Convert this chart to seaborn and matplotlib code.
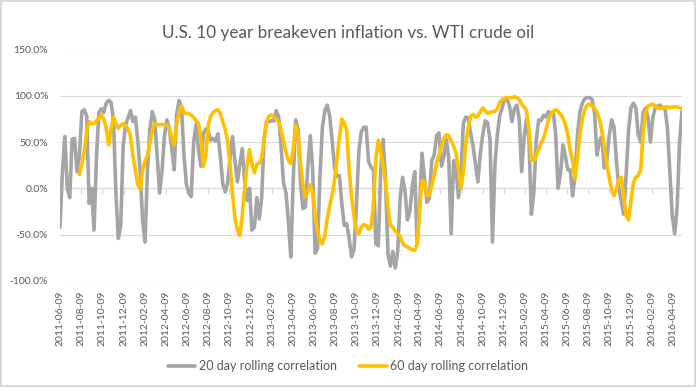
import pandas as pd
import numpy as np
import seaborn as sns
import matplotlib.pyplot as plt
import matplotlib.dates as mdates
import matplotlib.ticker as mtick

# weekly samples (percent)
dates = pd.date_range('2011-06-09', periods=257, freq='7D')

corr_20d = [
    -42, 18, 56, 0, -10, 53, 54, 18, 36, 83,
    85, 78, -16, 0, -45, 33, 82, 86, 82, 92,
    95, 93, 74, -5, -54, -40, 46, 69, 76, 84,
    72, 77, 52, 18, -35, -58, 20, 64, 83, 74,
    35, -5, 19, 57, 74, 64, 43, 20, 80, 95,
    88, 37, 5, -5, -9, 50, 69, 42, 24, 59,
    64, 62, 52, 54, 51, 59, 34, 5, -4, 6,
    33, 56, 30, 7, 26, 43, 8, -13, 0, -45,
    -42, -10, -33, -10, 53, 72, 72, 73, 73, 84,
    77, 45, 6, -5, -35, -74, 10, 74, 64, 5,
    -22, -20, 23, 57, 20, -70, -65, 14, 66, 84,
    90, 78, 52, 22, 13, 14, -17, -40, -38, -54,
    -74, -66, -18, 40, 61, 66, 66, 29, 23, 20,
    -60, -62, 20, 53, 7, -71, -84, -68, -86, -68,
    -10, 12, -3, -34, -25, 2, 18, -60, -20, 38,
    12, -15, -11, 30, 36, 57, 60, 24, 34, 53,
    33, -49, 30, 20, -10, 14, 70, 77, 76, 60,
    46, 26, 7, 38, 58, 73, 71, 52, -58, 25,
    58, 79, 87, 97, 96, 89, 72, 86, 90, 75,
    18, 55, 75, 54, -28, -5, 51, 74, 73, 79,
    77, 83, 81, 83, 59, 0, 16, 47, 35, 20,
    20, -8, 15, 59, 83, 92, 97, 98, 98, 96,
    82, 36, 51, 56, 22, 29, 56, 74, 67, 30,
    0, -14, -28, 14, 63, 87, 92, 87, 58, 50,
    82, 87, 77, 50, 77, 87, 89, 90, 87, 87,
    65, 17, -30, -49, -20, 50, 83,
]

corr_60d = [np.nan] * 8 + [
    15, 26,
    40, 62, 72, 70, 70, 73, 76, 79, 75, 65,
    47, 64, 77, 70, 65, 68, 70, 68, 64, 57,
    35, 20, 4, -1, 20, 29, 36, 49, 63, 70,
    69, 69, 69, 69, 68, 65, 54, 47, 70, 82,
    89, 82, 81, 81, 79, 77, 73, 70, 54, 24,
    35, 68, 78, 82, 84, 85, 81, 72, 64, 51,
    25, -6, -32, -45, -51, -30, 1, 25, 42, 27,
    17, 26, 27, 33, 52, 72, 78, 79, 78, 74,
    72, 63, 51, 39, 30, 27, 42, 68, 58, 26,
    3, -9, -4, 4, -5, -29, -46, -56, -60, -51,
    -32, -19, -7, 9, 32, 55, 75, 71, 62, 20,
    -9, -30, -45, -49, -42, -39, -40, -44, -42, -18,
    32, 52, 40, 24, 6, -20, -40, -42, -46, -49,
    -52, -59, -62, -63, -65, -66, -67, -60, -23, 8,
    8, -8, -7, 3, 13, 28, 36, 45, 54, 58,
    57, 51, 46, 38, 20, 0, 17, 48, 65, 78,
    80, 77, 78, 83, 87, 84, 81, 82, 83, 83,
    86, 93, 96, 97, 98, 98, 98, 99, 98, 96,
    91, 88, 84, 64, 31, 30, 35, 42, 49, 54,
    63, 74, 80, 83, 85, 83, 80, 76, 69, 58,
    41, 30, 10, 34, 58, 75, 85, 90, 91, 89,
    87, 82, 75, 62, 46, 27, 12, -1, -8, -1,
    9, 12, -8, -29, -34, -13, 6, 12, 14, 20,
    59, 82, 89, 90, 91, 89, 87, 86, 87, 88,
    88, 87, 88, 88, 88, 87, 86,
]

tick_dates = pd.date_range('2011-06-01', '2016-04-01', freq='2MS') + pd.Timedelta(days=8)
tick_labels = [d.strftime('%Y-%m-%d') for d in tick_dates]

title = 'U.S. 10 year breakeven inflation vs. WTI crude oil'
label_20 = '20 day rolling correlation'
label_60 = '60 day rolling correlation'

sns.set_style('white')
plt.rcParams['font.family'] = ['Lato', 'DejaVu Sans']
txt = '#595959'
grid = '#D9D9D9'

df = pd.DataFrame({'date': dates, 'c20': corr_20d, 'c60': corr_60d})

fig = plt.figure(figsize=(6.96, 3.87), dpi=100, edgecolor=grid, linewidth=1.5)
ax = fig.add_axes([60 / 696, 1 - 281 / 387, 622 / 696, (281 - 49.5) / 387])

sns.lineplot(data=df, x='date', y='c20', ax=ax, color='#A5A5A5', lw=2.6, label=label_20)
sns.lineplot(data=df, x='date', y='c60', ax=ax, color='#FFC000', lw=2.6, label=label_60)

ax.set_ylim(-100, 150)
ax.set_yticks(range(-100, 151, 50))
ax.yaxis.set_major_formatter(mtick.FuncFormatter(lambda v, p: f'{v:.1f}%'))
ax.set_xlim(dates[0], dates[-1])
ax.set_xticks(tick_dates)
ax.set_xticklabels(tick_labels, rotation=90)
ax.set_xlabel('')
ax.set_ylabel('')
ax.yaxis.grid(True, color=grid, lw=0.8)
ax.set_axisbelow(True)
for s in ax.spines.values():
    s.set_visible(False)
ax.tick_params(axis='y', length=0, pad=8.5, labelsize=7.5, labelcolor=txt)
ax.tick_params(axis='x', length=0, pad=7, labelsize=7.5, labelcolor=txt)

# axis line with tick marks sits at 0%
sec = ax.secondary_xaxis(0.4)
sec.set_xticks(mdates.date2num(tick_dates))
sec.set_xticklabels([])
sec.tick_params(direction='out', length=4, color=grid, width=0.8)
sec.spines['bottom'].set_color(grid)
sec.spines['bottom'].set_linewidth(0.8)

handles, labels = ax.get_legend_handles_labels()
ax.get_legend().remove()
fig.legend(handles, labels, loc='center', bbox_to_anchor=(0.5, 1 - 366 / 387), ncol=2,
           frameon=False, fontsize=9, labelcolor=txt, handlelength=2.2,
           columnspacing=1.8, handletextpad=0.3)

fig.text(348 / 696, 1 - 33 / 387, title, ha='center', va='center', fontsize=12.3,
         color=txt)

fig.savefig('out.png', dpi=100)
